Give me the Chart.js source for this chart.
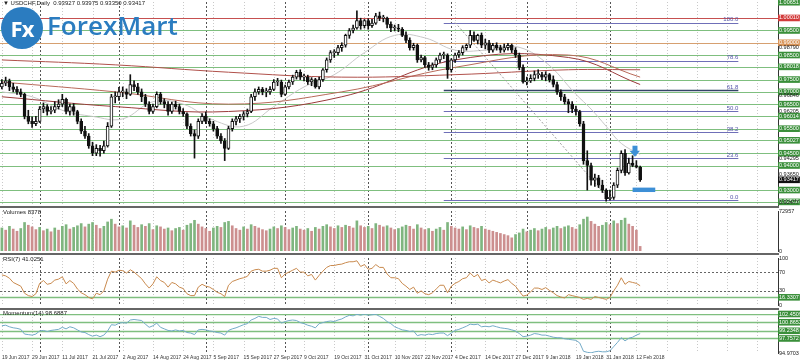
<!DOCTYPE html>
<html>
<head>
<meta charset="utf-8">
<script src="https://cdn.jsdelivr.net/npm/chart.js@4.4.1/dist/chart.umd.min.js"></script>
<style>
body { margin: 0; background: #fff; width: 800px; height: 364px; overflow: hidden; position: relative; font-family: "Liberation Sans", Arial, sans-serif; }
.pane { position: absolute; left: 0; width: 800px; }
.sep { position: absolute; left: 0; width: 779px; height: 2px; background: #666; }
.cap { position: absolute; left: 3px; font-size: 6px; color: #222; white-space: nowrap; }
#logo { position: absolute; left: 1px; top: 7px; width: 42px; height: 42px; border-radius: 50%; background: #2b7cc0; color: #fff; font: bold 22px "Open Sans", sans-serif; line-height: 42px; text-align: center; letter-spacing: -1px; }
#brand { position: absolute; left: 47px; top: 7px; font: 600 26px "Open Sans", sans-serif; color: #2b7cc0; }
</style>
</head>
<body>
<div class="pane" style="top:0;height:209px"><canvas id="cMain" width="800" height="209"></canvas></div>
<div class="pane" style="top:207px;height:47px"><canvas id="cVol" width="800" height="47"></canvas></div>
<div class="pane" style="top:254px;height:54px"><canvas id="cRsi" width="800" height="54"></canvas></div>
<div class="pane" style="top:308px;height:56px"><canvas id="cMom" width="800" height="56"></canvas></div>
<div class="sep" style="top:206px"></div>
<div class="sep" style="top:253px"></div>
<div class="sep" style="top:308px"></div>
<div class="cap" style="top:0px">&#9660; USDCHF,Daily&nbsp; 0.93927 0.93975 0.93350 0.93417</div>
<div class="cap" style="top:209px">Volumes 8378</div>
<div class="cap" style="top:256px">RSI(7) 41.0251</div>
<div class="cap" style="top:310px">Momentum(14) 98.6887</div>
<div id="logo">Fx</div>
<div id="brand">ForexMart</div>
<script>
const FONT = '"Liberation Sans", Arial, sans-serif';
const SLOTS = 206;

// date tick labels, one every 8 bars
const dateLabels = ['19 Jun 2017','29 Jun 2017','11 Jul 2017','21 Jul 2017','2 Aug 2017','14 Aug 2017','24 Aug 2017','5 Sep 2017','15 Sep 2017','27 Sep 2017','9 Oct 2017','19 Oct 2017','31 Oct 2017','10 Nov 2017','22 Nov 2017','4 Dec 2017','14 Dec 2017','27 Dec 2017','9 Jan 2018','19 Jan 2018','31 Jan 2018','12 Feb 2018'];
// first bar of each month (period separators)
const monthStarts = [10, 31, 54, 75, 97, 119, 139, 161];

const opens = [
0.9720,0.9735,0.9745,0.9720,0.9710,0.9700,0.9690,0.9600,0.9580,0.9570,
0.9580,0.9630,0.9640,0.9620,0.9625,0.9640,0.9650,0.9670,0.9620,0.9640,
0.9620,0.9580,0.9540,0.9520,0.9480,0.9450,0.9470,0.9460,0.9480,0.9560,
0.9680,0.9680,0.9700,0.9700,0.9690,0.9730,0.9720,0.9700,0.9680,0.9650,
0.9620,0.9640,0.9690,0.9660,0.9650,0.9620,0.9650,0.9640,0.9620,0.9610,
0.9560,0.9530,0.9520,0.9580,0.9600,0.9580,0.9570,0.9550,0.9520,0.9500,
0.9470,0.9550,0.9580,0.9590,0.9600,0.9610,0.9620,0.9680,0.9700,0.9710,
0.9700,0.9700,0.9710,0.9740,0.9740,0.9690,0.9720,0.9740,0.9760,0.9780,
0.9760,0.9760,0.9740,0.9750,0.9720,0.9750,0.9790,0.9830,0.9860,0.9860,
0.9880,0.9890,0.9930,0.9950,0.9960,0.9990,0.9970,0.9990,0.9970,0.9980,
1.0010,1.0000,1.0000,0.9975,0.9960,0.9960,0.9955,0.9930,0.9910,0.9880,
0.9890,0.9830,0.9840,0.9810,0.9800,0.9810,0.9830,0.9850,0.9850,0.9790,
0.9830,0.9850,0.9860,0.9880,0.9890,0.9930,0.9910,0.9930,0.9890,0.9900,
0.9870,0.9890,0.9880,0.9870,0.9880,0.9890,0.9870,0.9850,0.9800,0.9740,
0.9745,0.9755,0.9770,0.9770,0.9760,0.9770,0.9750,0.9730,0.9700,0.9680,
0.9660,0.9650,0.9630,0.9620,0.9570,0.9420,0.9400,0.9340,0.9350,0.9320,
0.9300,0.9265,0.9270,0.9320,0.9380,0.9450,0.9370,0.9410,0.9400,0.93927];
const highs = [
0.9750,0.9760,0.9752,0.9735,0.9722,0.9712,0.9695,0.9625,0.9598,0.9600,
0.9640,0.9655,0.9648,0.9640,0.9660,0.9668,0.9690,0.9675,0.9650,0.9652,
0.9625,0.9590,0.9560,0.9530,0.9495,0.9485,0.9482,0.9500,0.9575,0.9690,
0.9700,0.9718,0.9720,0.9712,0.9770,0.9745,0.9735,0.9712,0.9690,0.9660,
0.9650,0.9700,0.9698,0.9672,0.9660,0.9658,0.9662,0.9650,0.9632,0.9615,
0.9570,0.9545,0.9590,0.9612,0.9618,0.9590,0.9580,0.9560,0.9530,0.9510,
0.9560,0.9590,0.9600,0.9608,0.9620,0.9630,0.9690,0.9712,0.9720,0.9718,
0.9715,0.9722,0.9750,0.9755,0.9748,0.9728,0.9748,0.9768,0.9788,0.9790,
0.9772,0.9768,0.9758,0.9755,0.9760,0.9795,0.9838,0.9868,0.9872,0.9890,
0.9900,0.9935,0.9958,0.9972,1.0030,1.0000,0.9995,0.9998,0.9995,1.0020,
1.0025,1.0012,1.0005,0.9985,0.9972,0.9975,0.9962,0.9945,0.9920,0.9898,
0.9895,0.9850,0.9845,0.9820,0.9818,0.9838,0.9858,0.9862,0.9855,0.9835,
0.9858,0.9868,0.9888,0.9895,0.9950,0.9945,0.9935,0.9940,0.9915,0.9910,
0.9898,0.9900,0.9890,0.9895,0.9898,0.9895,0.9880,0.9858,0.9810,0.9760,
0.9770,0.9785,0.9790,0.9780,0.9782,0.9775,0.9765,0.9740,0.9708,0.9690,
0.9670,0.9660,0.9642,0.9625,0.9580,0.9460,0.9410,0.9365,0.9360,0.9340,
0.9305,0.9300,0.9330,0.9390,0.9460,0.9465,0.9430,0.9440,0.9420,0.93975];
const lows = [
0.9712,0.9725,0.9705,0.9700,0.9690,0.9680,0.9590,0.9570,0.9555,0.9562,
0.9575,0.9615,0.9605,0.9610,0.9615,0.9630,0.9640,0.9610,0.9605,0.9605,
0.9570,0.9530,0.9510,0.9470,0.9440,0.9440,0.9438,0.9450,0.9475,0.9555,
0.9655,0.9665,0.9680,0.9672,0.9685,0.9705,0.9690,0.9660,0.9640,0.9610,
0.9612,0.9635,0.9650,0.9635,0.9605,0.9612,0.9630,0.9610,0.9600,0.9550,
0.9520,0.9430,0.9510,0.9570,0.9570,0.9560,0.9540,0.9510,0.9490,0.9420,
0.9465,0.9540,0.9565,0.9575,0.9585,0.9598,0.9615,0.9665,0.9690,0.9688,
0.9680,0.9690,0.9705,0.9725,0.9680,0.9685,0.9712,0.9730,0.9752,0.9750,
0.9745,0.9730,0.9725,0.9715,0.9712,0.9742,0.9780,0.9820,0.9840,0.9850,
0.9865,0.9882,0.9918,0.9940,0.9955,0.9955,0.9960,0.9955,0.9962,0.9975,
0.9990,0.9985,0.9960,0.9945,0.9948,0.9945,0.9925,0.9900,0.9870,0.9870,
0.9820,0.9822,0.9800,0.9788,0.9790,0.9800,0.9820,0.9835,0.9755,0.9780,
0.9820,0.9840,0.9850,0.9870,0.9880,0.9905,0.9895,0.9880,0.9875,0.9860,
0.9862,0.9870,0.9860,0.9862,0.9870,0.9860,0.9840,0.9790,0.9735,0.9728,
0.9738,0.9745,0.9755,0.9750,0.9745,0.9740,0.9720,0.9690,0.9665,0.9650,
0.9615,0.9615,0.9605,0.9560,0.9405,0.9300,0.9320,0.9315,0.9310,0.9290,
0.9255,0.9259,0.9262,0.9310,0.9370,0.9360,0.9365,0.9395,0.9390,0.93350];
const closes = [
0.9735,0.9745,0.9720,0.9710,0.9700,0.9690,0.9600,0.9580,0.9570,0.9580,
0.9630,0.9640,0.9620,0.9625,0.9640,0.9650,0.9670,0.9620,0.9640,0.9620,
0.9580,0.9540,0.9520,0.9480,0.9450,0.9470,0.9460,0.9480,0.9560,0.9680,
0.9680,0.9700,0.9700,0.9690,0.9730,0.9720,0.9700,0.9680,0.9650,0.9620,
0.9640,0.9690,0.9660,0.9650,0.9620,0.9650,0.9640,0.9620,0.9610,0.9560,
0.9530,0.9520,0.9580,0.9600,0.9580,0.9570,0.9550,0.9520,0.9500,0.9470,
0.9550,0.9580,0.9590,0.9600,0.9610,0.9620,0.9680,0.9700,0.9710,0.9700,
0.9700,0.9710,0.9740,0.9740,0.9690,0.9720,0.9740,0.9760,0.9780,0.9760,
0.9760,0.9740,0.9750,0.9720,0.9750,0.9790,0.9830,0.9860,0.9860,0.9880,
0.9890,0.9930,0.9950,0.9960,0.9990,0.9970,0.9990,0.9970,0.9980,1.0010,
1.0000,1.0000,0.9975,0.9960,0.9960,0.9955,0.9930,0.9910,0.9880,0.9890,
0.9830,0.9840,0.9810,0.9800,0.9810,0.9830,0.9850,0.9850,0.9790,0.9830,
0.9850,0.9860,0.9880,0.9890,0.9930,0.9910,0.9930,0.9890,0.9900,0.9870,
0.9890,0.9880,0.9870,0.9880,0.9890,0.9870,0.9850,0.9800,0.9740,0.9745,
0.9755,0.9770,0.9770,0.9760,0.9770,0.9750,0.9730,0.9700,0.9680,0.9660,
0.9650,0.9630,0.9620,0.9570,0.9420,0.9400,0.9340,0.9350,0.9320,0.9300,
0.9265,0.9270,0.9320,0.9380,0.9450,0.9370,0.9410,0.9400,0.9393,0.93417];

const volumes = [
42000,38000,45000,40000,36000,41000,52000,47000,44000,39000,
43000,37000,40000,35000,42000,38000,45000,48000,40000,43000,
46000,50000,44000,49000,52000,47000,41000,45000,53000,58000,
49000,44000,46000,42000,55000,47000,43000,48000,45000,50000,
39000,46000,44000,40000,42000,37000,41000,43000,38000,47000,
50000,56000,49000,44000,41000,36000,42000,45000,43000,52000,
54000,46000,41000,38000,44000,40000,48000,45000,42000,39000,
37000,40000,44000,41000,46000,43000,39000,42000,45000,40000,
38000,41000,36000,43000,40000,45000,48000,44000,41000,46000,
43000,47000,45000,42000,55000,46000,43000,45000,41000,50000,
47000,44000,46000,42000,39000,41000,44000,47000,45000,40000,
48000,42000,39000,41000,36000,40000,43000,38000,52000,45000,
42000,40000,44000,39000,46000,43000,41000,45000,40000,38000,
36000,34000,32000,30000,28000,24000,30000,33000,40000,35000,
38000,41000,37000,40000,43000,39000,42000,45000,41000,44000,
46000,43000,40000,48000,58000,62000,54000,49000,45000,47000,
52000,48000,55000,50000,56000,60000,49000,45000,38000,8378];

const rsi = [
64,62,57,48,44,40,25,20,18,24,
46,52,44,46,53,55,60,45,52,46,
34,26,22,16,13,25,22,30,55,72,
70,74,73,68,75,70,63,56,45,36,
45,60,52,48,38,48,45,38,35,24,
20,20,38,44,40,38,33,27,24,18,
42,50,53,56,58,61,72,75,76,72,
72,74,78,78,58,66,70,74,78,70,
70,62,65,53,63,72,80,84,84,86,
87,90,92,92,94,82,86,76,78,86,
80,80,66,58,58,56,46,40,33,38,
25,30,24,22,26,34,42,42,26,40,
46,50,56,58,68,60,65,52,55,47,
53,50,47,51,54,46,40,29,19,21,
28,36,36,33,37,31,26,20,17,15,
22,20,18,16,12,14,12,18,16,14,
12,16,30,42,58,44,50,48,46,41.03];

const momentum = [
100.2,100.3,100.0,99.8,99.7,99.5,98.6,98.5,98.4,98.6,
99.2,99.3,99.1,99.3,99.4,99.5,99.9,99.6,100.0,99.8,
99.4,99.0,98.9,98.5,98.2,98.4,98.1,98.4,99.2,100.4,
100.3,100.7,100.8,100.7,101.3,101.4,101.3,101.2,100.5,99.9,
100.2,100.7,99.9,99.6,99.3,99.2,99.4,99.2,99.3,98.9,
98.8,98.5,99.4,99.5,99.4,99.2,99.1,98.9,98.8,98.4,
99.3,99.6,99.8,100.1,100.4,100.6,101.3,101.6,102.0,101.8,
101.8,101.4,101.6,101.5,100.7,101.0,101.2,101.3,101.2,100.8,
100.6,100.3,100.1,99.8,100.6,100.8,101.0,101.1,101.0,101.3,
101.5,101.9,102.2,102.1,102.4,102.2,102.45,102.2,102.3,102.4,
102.0,101.6,101.0,100.6,100.0,99.7,99.4,99.3,99.1,99.2,
98.3,98.5,98.4,98.6,98.5,98.7,98.8,98.8,98.3,98.8,
99.3,99.5,99.8,100.1,100.5,100.4,100.5,100.0,100.1,100.0,
100.2,100.0,99.8,99.7,99.6,99.4,99.2,98.7,98.1,98.2,
98.4,98.7,98.6,98.4,98.4,98.2,98.0,97.9,97.9,97.7,
97.6,97.5,97.4,96.9,95.3,95.1,95.0,95.2,95.3,95.2,
95.2,95.4,96.2,97.0,97.9,97.3,97.8,98.0,98.4,98.69];

// moving averages, read at a few bars [bar, price]
const maFast = [[0,0.9700],[8,0.9680],[16,0.9625],[24,0.9600],[32,0.9590],[40,0.9660],[48,0.9650],[56,0.9585],[64,0.9560],[72,0.9640],[80,0.9720],[88,0.9770],[96,0.9860],[104,0.9930],[112,0.9920],[120,0.9870],[128,0.9870],[136,0.9885],[144,0.9820],[152,0.9690],[156,0.9630],[160,0.9560],[164,0.9490],[169,0.9445]];
const maSlow = [[0,0.9830],[30,0.9810],[60,0.9780],[90,0.9760],[120,0.9770],[150,0.9790],[169,0.9790]];
const maMid = [[0,0.9740],[30,0.9700],[60,0.9650],[90,0.9700],[120,0.9800],[150,0.9850],[169,0.9760]];
const maShort = [[0,0.9680],[30,0.9640],[60,0.9620],[90,0.9680],[120,0.9830],[150,0.9840],[169,0.9730]];

// horizontal levels drawn on the price panel
const greenLevels = [0.99500,0.98500,0.98018,0.97500,0.97000,0.96500,0.96014,0.95500,0.95027,0.94500,0.94000,0.93000,0.92518];
const redLevel = 1.00010;
const orangeLevel = 0.99000;
const fibNames = ['0.0','23.6','38.2','50.0','61.8','78.6','100.0'];
const fibPrices = [0.92588,0.94295,0.95352,0.96206,0.97059,0.98274,0.99823];
const fibFrom = 117, fibTo = 195;
const fibDiag = [[120,0.99823],[161,0.92588]];

// right-hand price labels: value, kind (g green box, r red, o orange, k black, p plain)
const priceTicks = [1.00651,1.00010,0.99500,0.99000,0.98790,0.98500,0.98018,0.97500,0.97000,0.96846,0.96500,0.96205,0.96014,0.95500,0.95027,0.94500,0.94295,0.94000,0.93650,0.93417,0.93000,0.92518,0.92477];
const priceKinds = ['g','r','g','o','p','g','g','g','g','p','g','p','g','g','g','g','p','g','p','k','g','g','p'];

const volTicks = [72957, 0];
const rsiTicks = [100, 70, 30, 16.3307, 0];
const momTicks = [102.4509, 100.8652, 99.2348, 97.7572, 94.9703];

const boxColors = { g: '#3a8f3a', r: '#d23b3b', o: '#d9955a', k: '#111', p: 'rgba(0,0,0,0)' };

const slotLabels = Array.from({ length: SLOTS }, (_, i) => String(i));
const fill = arr => { const out = arr.slice(); while (out.length < SLOTS) out.push(null); return out; };
const sparse = pts => { const out = new Array(SLOTS).fill(null); for (const [i, v] of pts) out[i] = v; return out; };

function xScale(show) {
    return {
        type: 'category', labels: slotLabels, offset: true, display: show,
        grid: { display: false, drawTicks: false }, border: { display: false },
        ticks: {
            autoSkip: false, maxRotation: 0, minRotation: 0, align: 'start', padding: 2,
            color: '#333', font: { size: 5, family: FONT },
            callback: (v, i) => (i % 8 === 0 && dateLabels[i / 8]) ? dateLabels[i / 8] : ''
        },
        afterFit: s => { if (show) s.height = 11; s.paddingLeft = 0; s.paddingRight = 0; }
    };
}

function yScale(min, max, ticks, kindOf, digits) {
    return {
        position: 'right', min: min, max: max,
        afterBuildTicks: s => { s.ticks = ticks.map(v => ({ value: v })); },
        afterFit: s => { s.width = 22; s.paddingTop = 0; s.paddingBottom = 0; },
        grid: { display: false, drawTicks: false },
        border: { display: true, color: '#333', width: 1 },
        ticks: {
            autoSkip: false, padding: 1, font: { size: 5.5, family: FONT },
            color: c => { const k = kindOf(c.index); return k === 'p' ? '#222' : '#fff'; },
            showLabelBackdrop: c => kindOf(c.index) !== 'p',
            backdropColor: c => boxColors[kindOf(c.index)],
            backdropPadding: { left: 1, right: 1, top: 0, bottom: 0 },
            callback: v => Number.isInteger(v) ? String(v) : v.toFixed(digits)
        }
    };
}

// draws period separators, grid and hand-drawn levels inside the plot area
const overlay = {
    id: 'overlay',
    beforeDatasetsDraw(chart, args, opts) {
        const { ctx, chartArea: a, scales: { x, y } } = chart;
        ctx.save();
        ctx.beginPath(); ctx.rect(a.left, a.top, a.width, a.height); ctx.clip();
        ctx.lineWidth = 1;
        ctx.setLineDash([1, 2]);
        ctx.strokeStyle = '#c9c9c9';
        for (let i = 0; i < SLOTS; i += 8) {
            const px = Math.round(x.getPixelForValue(i)) + 0.5;
            ctx.beginPath(); ctx.moveTo(px, a.top); ctx.lineTo(px, a.bottom); ctx.stroke();
        }
        ctx.setLineDash([2, 2]);
        ctx.strokeStyle = '#555';
        for (const m of monthStarts) {
            const px = Math.round(x.getPixelForValue(m)) + 0.5;
            ctx.beginPath(); ctx.moveTo(px, a.top); ctx.lineTo(px, a.bottom); ctx.stroke();
        }
        for (const l of (opts.levels || [])) {
            const py = Math.round(y.getPixelForValue(l.v)) + 0.5;
            const x0 = l.from == null ? a.left : x.getPixelForValue(l.from);
            const x1 = l.to == null ? a.right : x.getPixelForValue(l.to);
            ctx.setLineDash(l.dash || []);
            ctx.strokeStyle = l.color; ctx.lineWidth = l.w || 1;
            ctx.beginPath(); ctx.moveTo(x0, py); ctx.lineTo(x1, py); ctx.stroke();
        }
        ctx.setLineDash([]);
        for (const t of (opts.texts || [])) {
            ctx.fillStyle = t.color; ctx.font = '6px ' + FONT; ctx.textAlign = 'right'; ctx.textBaseline = 'bottom';
            ctx.fillText(t.text, x.getPixelForValue(t.i), y.getPixelForValue(t.v));
        }
        ctx.restore();
    },
    afterDatasetsDraw(chart, args, opts) {
        if (!opts.marks) return;
        const { ctx, scales: { x, y } } = chart;
        ctx.save();
        ctx.fillStyle = '#3d8fd6';
        const m = opts.marks;
        const rx0 = x.getPixelForValue(m.rect[0]), rx1 = x.getPixelForValue(m.rect[1]);
        const ry0 = y.getPixelForValue(m.rect[2]), ry1 = y.getPixelForValue(m.rect[3]);
        ctx.fillRect(rx0, ry0, rx1 - rx0, ry1 - ry0);
        const ax = x.getPixelForValue(m.arrow[0]), ay = y.getPixelForValue(m.arrow[1]);
        ctx.fillRect(ax - 2, ay - 8, 5, 6);
        ctx.beginPath(); ctx.moveTo(ax - 5, ay - 3); ctx.lineTo(ax + 5.5, ay - 3); ctx.lineTo(ax + 0.5, ay + 3); ctx.closePath(); ctx.fill();
        ctx.restore();
    }
};

const common = {
    responsive: false, animation: false,
    plugins: { legend: { display: false }, tooltip: { enabled: false } }
};

// price panel
const levels = [];
for (const v of greenLevels) levels.push({ v: v, color: '#7fbf7f' });
levels.push({ v: redLevel, color: '#c65050' });
levels.push({ v: orangeLevel, color: '#d6a070' });
fibPrices.forEach((v, k) => levels.push({ v: v, color: k === 4 ? '#334466' : '#6f6fb8', from: fibFrom, to: fibTo, w: k === 4 ? 1.5 : 1 }));
const fibTexts = fibPrices.map((v, k) => ({ i: fibTo, v: v, text: fibNames[k], color: '#5555aa' }));

const bull = closes.map((c, i) => c >= opens[i]);
const maLine = (pts, color, w) => ({ type: 'line', data: sparse(pts), borderColor: color, borderWidth: w, pointRadius: 0, spanGaps: true, tension: 0.4, order: 5 });

new Chart(document.getElementById('cMain'), {
    type: 'bar',
    data: {
        labels: slotLabels,
        datasets: [
            maLine(maSlow, '#b0504a', 1),
            maLine(maMid, '#b86a5a', 1),
            maLine(maShort, '#9c3c3c', 1),
            maLine(maFast, '#c8c8c8', 1),
            { type: 'line', data: sparse(fibDiag), borderColor: '#999', borderWidth: 1, borderDash: [2, 2], pointRadius: 0, spanGaps: true, order: 4 },
            { data: fill(lows.map((l, i) => [l, highs[i]])), backgroundColor: '#111', barThickness: 1, grouped: false, order: 2 },
            { data: fill(opens.map((o, i) => [o, closes[i]])), backgroundColor: bull.map(b => b ? '#fff' : '#111'), borderColor: '#111', borderWidth: 1, borderSkipped: false, barThickness: 3, minBarLength: 1, grouped: false, order: 1 }
        ]
    },
    options: Object.assign({}, common, {
        layout: { padding: { top: 2, bottom: 2, left: 0, right: 0 } },
        scales: { x: xScale(false), y: yScale(0.9231, 1.0066, priceTicks, i => priceKinds[i], 5) },
        plugins: Object.assign({}, common.plugins, {
            overlay: { levels: levels, texts: fibTexts, marks: { rect: [167, 173, 0.9310, 0.9292], arrow: [167.5, 0.9448] } }
        })
    }),
    plugins: [overlay]
});

// volume panel
new Chart(document.getElementById('cVol'), {
    type: 'bar',
    data: {
        labels: slotLabels,
        datasets: [{ data: fill(volumes), backgroundColor: volumes.map((v, i) => (i === 0 || v >= volumes[i - 1]) ? '#7fb57f' : '#cc8f8f'), barThickness: 2 }]
    },
    options: Object.assign({}, common, {
        layout: { padding: { top: 4, bottom: 3, left: 0, right: 0 } },
        scales: { x: xScale(false), y: yScale(0, 72957, volTicks, () => 'p', 0) },
        plugins: Object.assign({}, common.plugins, { overlay: {} })
    }),
    plugins: [overlay]
});

// RSI panel
new Chart(document.getElementById('cRsi'), {
    type: 'line',
    data: { labels: slotLabels, datasets: [{ data: fill(rsi), borderColor: '#c98a4e', borderWidth: 1, pointRadius: 0, tension: 0 }] },
    options: Object.assign({}, common, {
        layout: { padding: { top: 4, bottom: 3, left: 0, right: 0 } },
        scales: { x: xScale(false), y: yScale(0, 100, rsiTicks, i => i === 3 ? 'g' : 'p', 4) },
        plugins: Object.assign({}, common.plugins, {
            overlay: { levels: [{ v: 70, color: '#666', dash: [2, 2] }, { v: 30, color: '#666', dash: [2, 2] }, { v: 16.3307, color: '#7fbf7f', w: 1.5 }] }
        })
    }),
    plugins: [overlay]
});

// momentum panel
new Chart(document.getElementById('cMom'), {
    type: 'line',
    data: { labels: slotLabels, datasets: [{ data: fill(momentum), borderColor: '#74abc8', borderWidth: 1, pointRadius: 0, tension: 0 }] },
    options: Object.assign({}, common, {
        layout: { padding: { top: 6, bottom: 0, left: 0, right: 0 } },
        scales: { x: xScale(true), y: yScale(94.9703, 102.4509, momTicks, i => i === 4 ? 'p' : 'g', 4) },
        plugins: Object.assign({}, common.plugins, {
            overlay: { levels: momTicks.slice(0, 4).map(v => ({ v: v, color: '#7fbf7f', w: 1.5 })) }
        })
    }),
    plugins: [overlay]
});
</script>
</body>
</html>
